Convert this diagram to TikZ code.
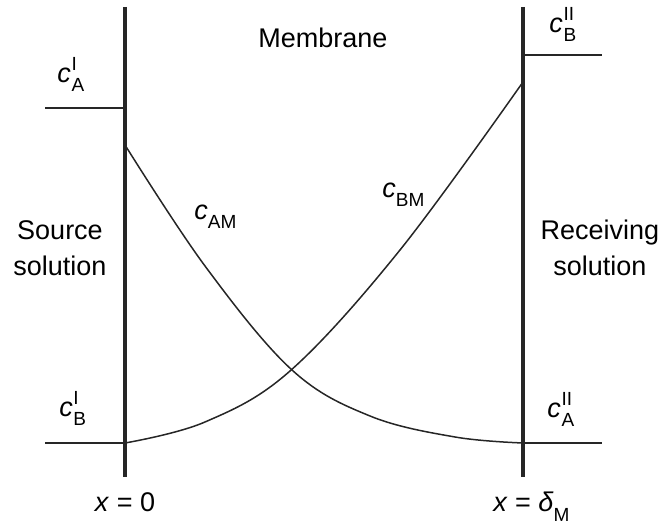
\documentclass[tikz,border=0pt]{standalone}
\usepackage{fontspec}
\setmainfont{Liberation Sans}
\newcommand{\smallidx}[1]{{\fontsize{9.5}{10}\selectfont #1}}
\newcommand{\concsub}[1]{\textit{c}\raisebox{-4.3pt}{\smallidx{#1}}}
\newcommand{\concsubsup}[2]{\textit{c}\kern0.3pt\rlap{\raisebox{6.2pt}{\smallidx{#2}}}\raisebox{-4.3pt}{\smallidx{#1}}}
\begin{document}
\begin{tikzpicture}[x=0.5pt,y=-0.5pt,
  wall/.style={line width=2pt,draw=black!85},
  thin/.style={line width=0.75pt,draw=black!85},
  lbl/.style={inner sep=0pt,font=\fontsize{13.5}{16}\selectfont}]
\useasboundingbox (0,0) rectangle (671,523);
% walls
\coordinate (lt) at (125,7);
\coordinate (lb) at (125,477);
\coordinate (rt) at (523,7);
\coordinate (rb) at (523,477);
\draw[wall] (lt) -- (lb);
\draw[wall] (rt) -- (rb);
% level lines
\coordinate (aIl) at (45,108);  \coordinate (aIr) at (125,108);
\coordinate (bIl) at (45,443);  \coordinate (bIr) at (125,443);
\coordinate (bIIl) at (523,55); \coordinate (bIIr) at (602,55);
\coordinate (aIIl) at (523,443); \coordinate (aIIr) at (602,443);
\draw[thin] (aIl) -- (aIr);
\draw[thin] (bIl) -- (bIr);
\draw[thin] (bIIl) -- (bIIr);
\draw[thin] (aIIl) -- (aIIr);
% profiles
\draw[thin] plot[smooth,tension=0.6] coordinates {(125,145) (205,266) (292,370) (370,416) (455,437) (523,443)};
\draw[thin] plot[smooth,tension=0.6] coordinates {(125,443) (205,422) (290,371) (400,250) (523,82)};
% texts
\node[lbl] (mem) at (323,38) {Membrane};
\node[lbl,align=center] (src) at (60,248) {Source\\[2pt]solution};
\node[lbl,align=center] (rec) at (600,248) {Receiving\\[2pt]solution};
\node[lbl,anchor=base west] (cAI) at (57,83) {\concsubsup{A}{I}};
\node[lbl,anchor=base west] (cBII) at (549,33) {\concsubsup{B}{II}};
\node[lbl,anchor=base west] (cBI) at (59,417) {\concsubsup{B}{I}};
\node[lbl,anchor=base west] (cAII) at (547,418) {\concsubsup{A}{II}};
\node[lbl,anchor=base west] (cAM) at (194,220) {\concsub{AM}};
\node[lbl,anchor=base west] (cBM) at (382,198) {\concsub{BM}};
\node[lbl,anchor=base] (x0) at (125,512) {\textit{x} = 0};
\node[lbl,anchor=base west] (xd) at (493,512) {\textit{x} = \textit{δ}\raisebox{-4.8pt}{\smallidx{M}}};
\end{tikzpicture}
\end{document}
